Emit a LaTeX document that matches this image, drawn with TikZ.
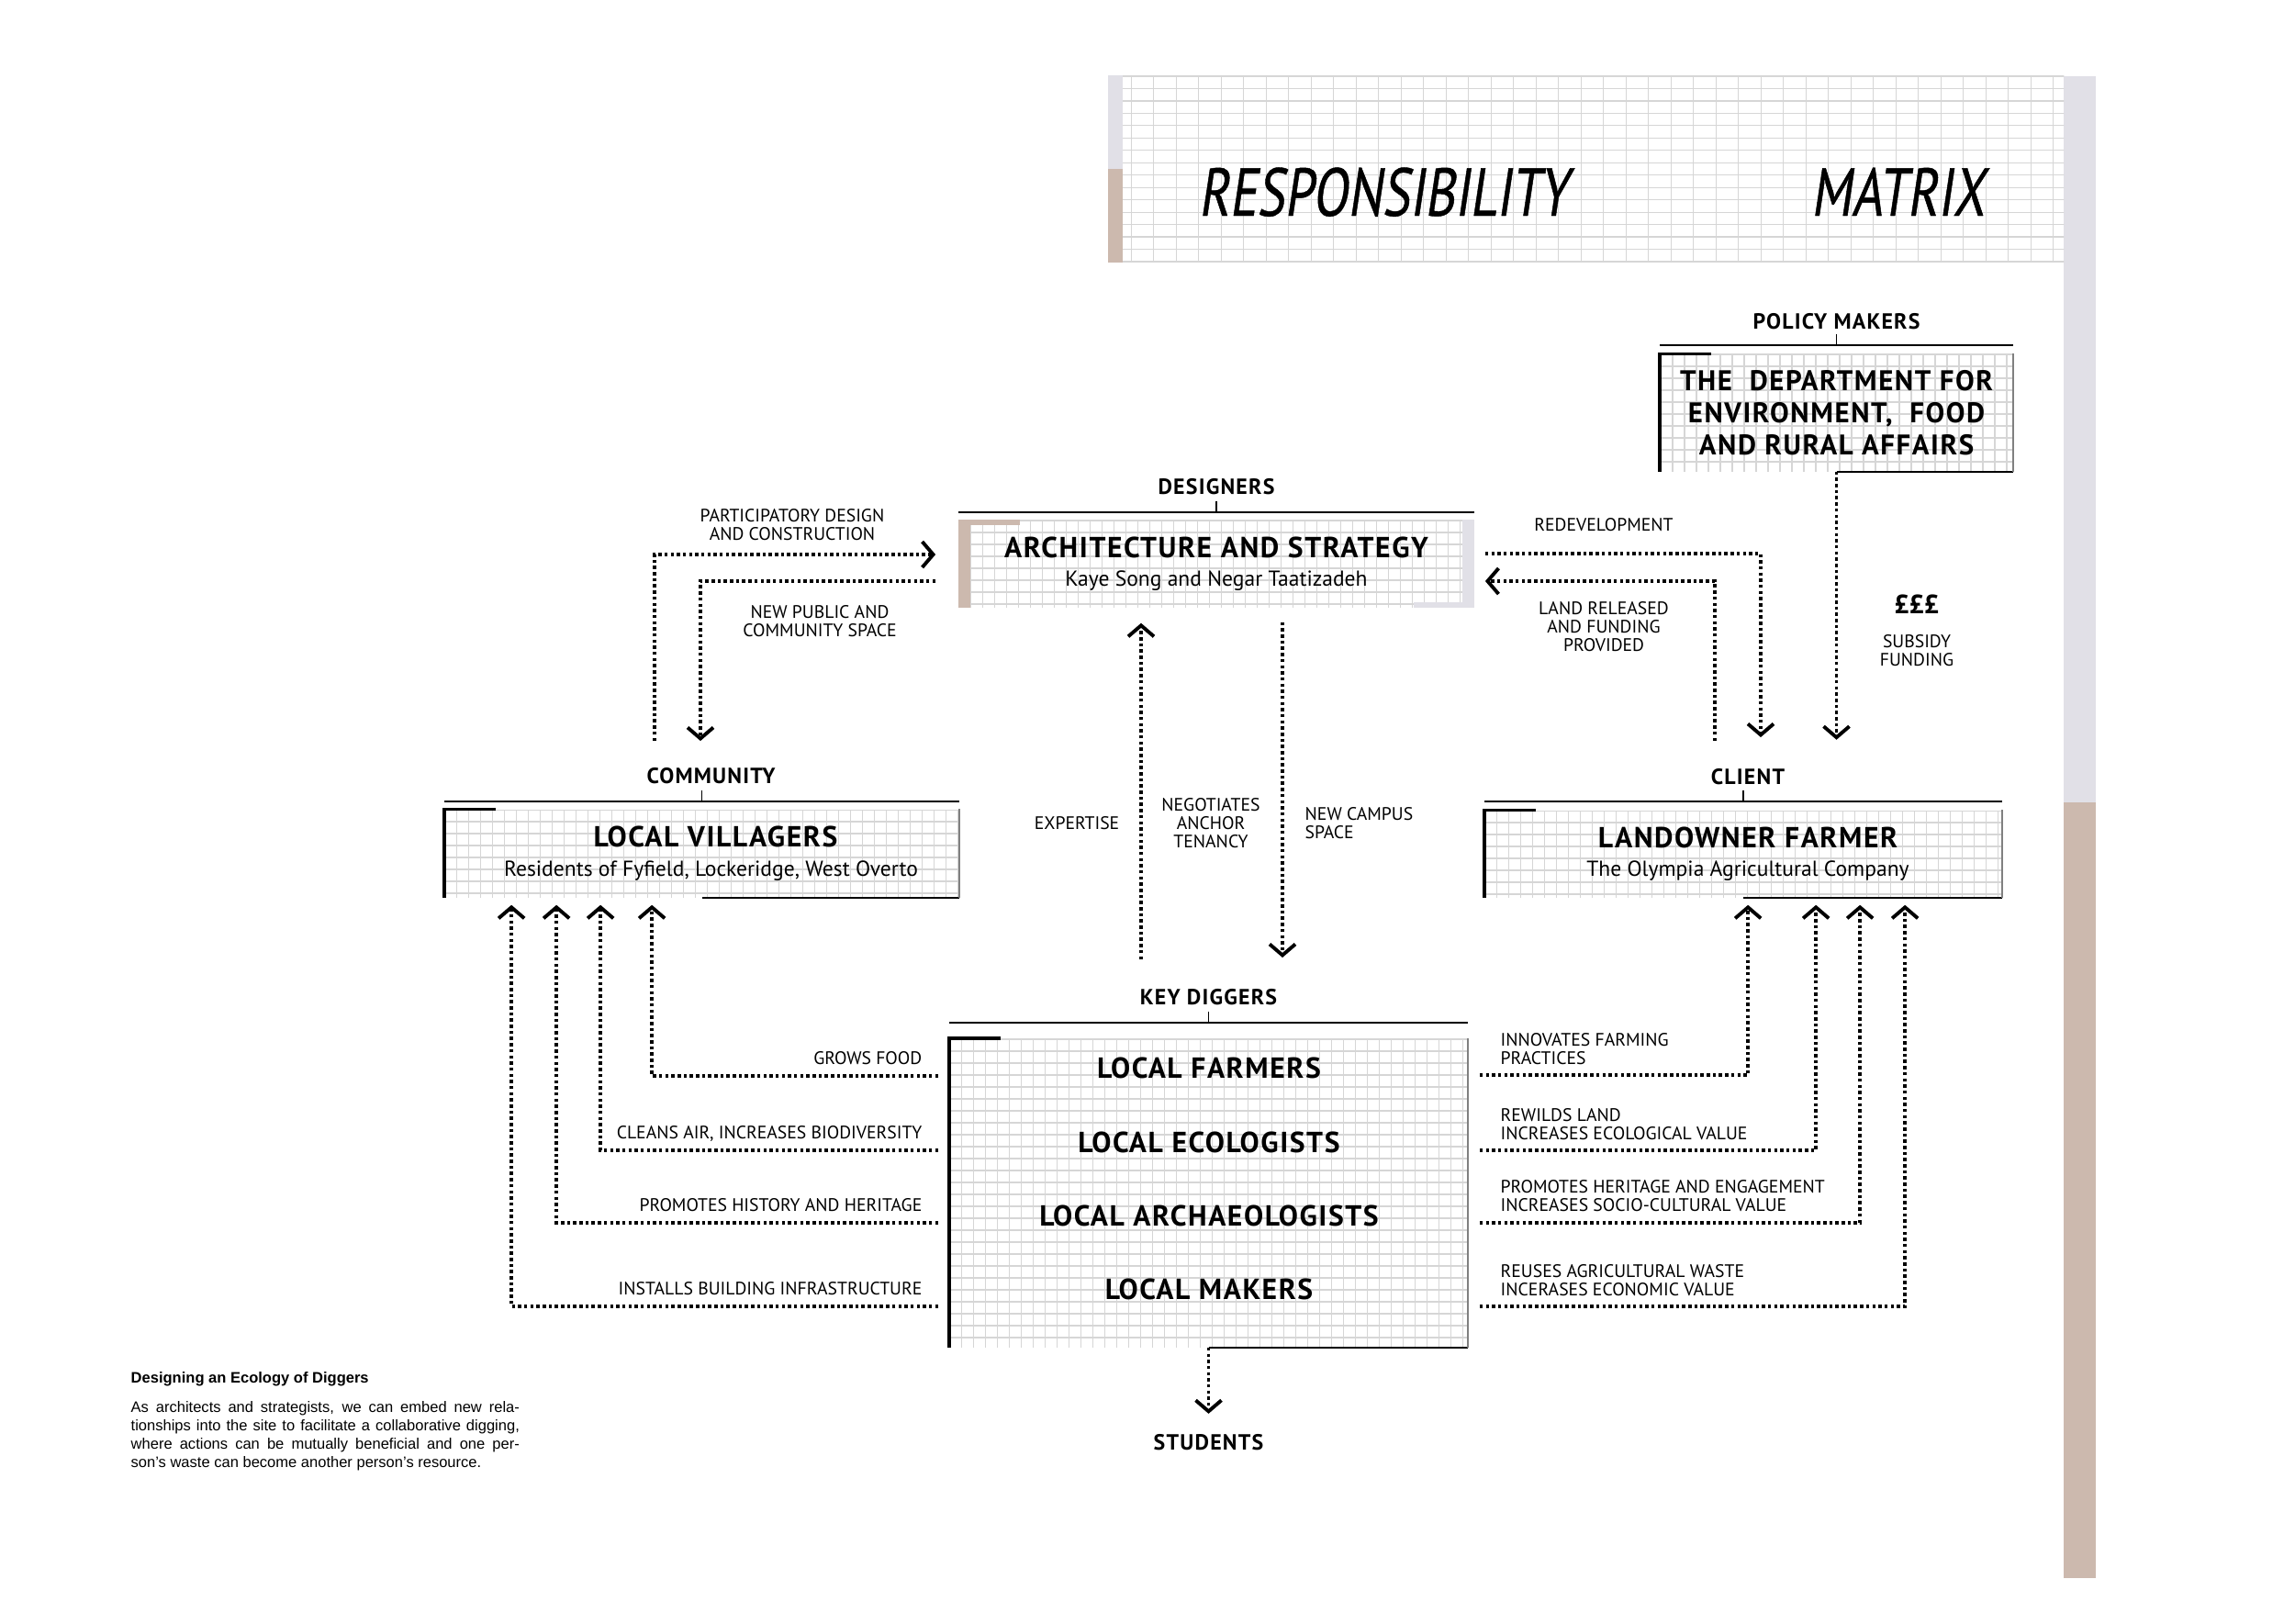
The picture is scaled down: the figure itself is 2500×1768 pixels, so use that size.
\documentclass[tikz,border=0pt]{standalone}
\usepackage{fontspec}
\setmainfont{PT Sans}
\newfontfamily\headfont{PT Sans}[LetterSpace=5]
\newfontfamily\titlefont{PT Sans}[FakeStretch=0.76,FakeSlant=0.15,FakeBold=0.6]
\newfontfamily\notefont{Liberation Sans}
\usetikzlibrary{arrows.meta,calc,positioning}
\definecolor{stripgray}{RGB}{225,224,231}
\definecolor{striptan}{RGB}{204,185,174}
\newcommand{\roleframe}[1]{%
  \draw[line width=1pt] (#1.south west) -- (#1.north west) -- ++(56,0);
  \draw[line width=0.6pt] (#1.south) -- (#1.south east);
  \draw[line width=0.6pt, black!50] (#1.south east) -- (#1.north east);
}
\newcommand{\rolebracket}[2]{%
  \draw[line width=0.55pt] ($(#1.north west)+(0,-#2)$) -- ($(#1.north east)+(0,-#2)$);
  \draw[line width=0.55pt] ($(#1.north)+(0,-#2)$) -- ++(0,-12);
}
\tikzset{
  gridline/.style={black!16, line width=0.35pt},
  gridfill/.style 2 args={path picture={
    \foreach \gx in {0,#1,...,1100}
      \draw[gridline] ($(path picture bounding box.north west)+(\gx,0)$) -- ++(0,400);
    \foreach \gy in {0,#2,...,400}
      \draw[gridline] ($(path picture bounding box.north west)+(0,\gy)$) -- ++(1100,0);
  }},
  rolebox/.style={rectangle, inner sep=0pt, align=center, gridfill={13}{13},
    font=\headfont\bfseries\fontsize{9}{10}\selectfont},
  heading/.style={inner sep=0pt, font=\headfont\bfseries\fontsize{6.8}{8}\selectfont},
  flowtag/.style={inner sep=0pt, align=center, font=\rmfamily\fontsize{5.6}{5.7}\selectfont},
  titletext/.style={inner sep=0pt, font=\titlefont\fontsize{21}{21}\selectfont},
  notetext/.style={inner sep=0pt, font=\notefont\fontsize{4.7}{5.7}\selectfont},
  flow/.style={line width=1pt, dash pattern=on 1pt off 0.9pt,
    -{Straight Barb[length=1.2mm, width=2.8mm, line width=1.1pt]}}
}
\newcommand{\subline}{\rmfamily\mdseries\fontsize{6.7}{8}\selectfont}
\begin{document}
\begin{tikzpicture}[x=0.01cm, y=-0.01cm]
  \useasboundingbox[fill=white] (0,0) rectangle (2500,1768);

  % page strips and title banner
  \fill[stripgray] (2248,83) rectangle (2283,874);
  \fill[striptan] (2248,874) rectangle (2283,1719);
  \node[rectangle, inner sep=0pt, minimum width=10.4cm, minimum height=2.02cm, gridfill={24.5}{13.47}] (banner) at (1728,184) {};
  \fill[stripgray] (banner.north west) rectangle ($(banner.west)+(16,0)$);
  \fill[striptan] (banner.west) rectangle ($(banner.south west)+(16,0)$);
  \node[titletext, anchor=base west] (resp) at (1305,235) {RESPONSIBILITY};
  \node[titletext, anchor=base west] (matx) at (1972,235) {MATRIX};

  % role boxes
  \node[rolebox, minimum width=3.83cm, minimum height=1.27cm, font=\headfont\bfseries\fontsize{8.8}{10}\selectfont] (defra) at (2000.5,449.5)
    {THE\ \ DEPARTMENT FOR\\ENVIRONMENT,\ \ FOOD\\AND RURAL AFFAIRS};
  \node[rolebox, minimum width=5.6cm, minimum height=0.94cm] (desig) at (1325,614)
    {ARCHITECTURE AND STRATEGY\\[-1pt]{\subline Kaye Song and Negar Taatizadeh}};
  \node[rolebox, minimum width=5.59cm, minimum height=0.95cm] (commu) at (764.5,929.5)
    {\hspace*{0.3cm}LOCAL VILLAGERS\\[-1pt]{\subline\hspace*{0.2cm}Residents of Fyfield, Lockeridge, West Overto}};
  \node[rolebox, minimum width=5.62cm, minimum height=0.94cm] (client) at (1899,930)
    {\hspace*{0.1cm}LANDOWNER FARMER\\[-1pt]{\subline\hspace*{0.1cm}The Olympia Agricultural Company}};
  \node[rolebox, minimum width=5.63cm, minimum height=3.35cm] (digg) at (1316.5,1299.5) {};
  \node[inner sep=0pt, align=center, font=\headfont\bfseries\fontsize{9}{22.8}\selectfont] (diggtxt) at (1317,1284)
    {LOCAL FARMERS\\LOCAL ECOLOGISTS\\LOCAL ARCHAEOLOGISTS\\LOCAL MAKERS};

  \roleframe{defra}
  \roleframe{commu}
  \roleframe{client}
  \roleframe{digg}
  \fill[striptan] (desig.north west) rectangle ($(desig.south west)+(13,0)$);
  \fill[striptan] (desig.north west) rectangle ($(desig.north west)+(67,6)$);
  \fill[stripgray] ($(desig.north east)+(-13,0)$) rectangle (desig.south east);
  \fill[stripgray] ($(desig.south east)+(-66,-6)$) rectangle (desig.south east);

  \rolebracket{defra}{9}
  \rolebracket{desig}{8}
  \rolebracket{commu}{8}
  \rolebracket{client}{9}
  \rolebracket{digg}{17}

  \node[heading, above=0.26cm of defra] (defralbl) {POLICY MAKERS};
  \node[heading, above=0.27cm of desig] (desiglbl) {DESIGNERS};
  \node[heading, above=0.27cm of commu, xshift=0.1cm] (commulbl) {COMMUNITY};
  \node[heading, above=0.27cm of client, xshift=0.05cm] (clientlbl) {CLIENT};
  \node[heading, above=0.36cm of digg] (digglbl) {KEY DIGGERS};
  \node[heading, below=0.94cm of digg] (studlbl) {STUDENTS};

  % connector labels
  \node[flowtag] (pdlbl) at (863,572) {PARTICIPATORY DESIGN\\AND CONSTRUCTION};
  \node[flowtag] (nplbl) at (893,677) {NEW PUBLIC AND\\COMMUNITY SPACE};
  \node[flowtag] (redlbl) at (1747,572) {REDEVELOPMENT};
  \node[flowtag] (landlbl) at (1747,683) {LAND RELEASED\\AND FUNDING\\PROVIDED};
  \node[flowtag] (explbl) at (1173,897) {EXPERTISE};
  \node[flowtag] (neglbl) at (1319,897) {NEGOTIATES\\ANCHOR\\TENANCY};
  \node[flowtag, align=left, anchor=west] (camplbl) at (1421,897) {NEW CAMPUS\\SPACE};
  \node[inner sep=0pt, font=\rmfamily\bfseries\fontsize{8.2}{9}\selectfont] (poundlbl) at (2088,658) {£££};
  \node[flowtag] (sublbl) at (2088,709) {SUBSIDY\\FUNDING};

  \node[flowtag, anchor=base east] (growlbl) at (1005,1159) {GROWS FOOD};
  \node[flowtag, anchor=base east] (cleanlbl) at (1005,1240) {CLEANS AIR, INCREASES BIODIVERSITY};
  \node[flowtag, anchor=base east] (histlbl) at (1005,1319) {PROMOTES HISTORY AND HERITAGE};
  \node[flowtag, anchor=base east] (instlbl) at (1005,1410) {INSTALLS BUILDING INFRASTRUCTURE};
  \node[flowtag, align=left, anchor=south west] (farmlbl) at (1634,1160) {INNOVATES FARMING\\PRACTICES};
  \node[flowtag, align=left, anchor=south west] (wildlbl) at (1634,1242) {REWILDS LAND\\INCREASES ECOLOGICAL VALUE};
  \node[flowtag, align=left, anchor=south west] (herlbl) at (1634,1320) {PROMOTES HERITAGE AND ENGAGEMENT\\INCREASES SOCIO-CULTURAL VALUE};
  \node[flowtag, align=left, anchor=south west] (wastelbl) at (1634,1412) {REUSES AGRICULTURAL WASTE\\INCERASES ECONOMIC VALUE};

  % connectors
  \coordinate (pdA) at (713,807);
  \coordinate (npB) at (763,807);
  \coordinate (redB) at (1918,803);
  \coordinate (landA) at (1868,807);
  \coordinate (expA) at (1243,1045);
  \coordinate (campB) at (1397,1043);
  \draw[flow] (pdA) |- ($(desig.west)+(-25,-10)$);
  \draw[flow] ($(desig.west)+(-25,19)$) -| (npB);
  \draw[flow] ($(desig.east)+(12,-11)$) -| (redB);
  \draw[flow] (landA) |- ($(desig.east)+(12,19)$);
  \draw[flow] (defra.south) -- ($(defra.south)+(0,292)$);
  \draw[flow] (expA) -- ($(desig.south -| expA)+(0,17)$);
  \draw[flow] ($(desig.south -| campB)+(0,16)$) -- (campB);
  \draw[flow] (digg.south) -- ($(studlbl.north)+(0,-22)$);
  \foreach \dy/\dx in {-127.5/226,-46.5/170,32.5/122,123.5/73}
    \draw[flow] ($(digg.west)+(-12,\dy)$) -| ($(commu.south west)+(\dx,8)$);
  \foreach \dy/\dx in {-128.5/287,-46.5/361,32.5/409,123.5/458}
    \draw[flow] ($(digg.east)+(13,\dy)$) -| ($(client.south west)+(\dx,8)$);

  % caption
  \node[notetext, anchor=base west, font=\notefont\bfseries\fontsize{4.7}{5.7}\selectfont] (notehead) at (142,1506) {Designing an Ecology of Diggers};
  \node[notetext, anchor=base west, text width=4.23cm, align=justify] (notebody) at (142,1538)
    {As architects and strategists, we can embed new rela-\linebreak tionships into the site to facilitate a collaborative digging,\linebreak where actions can be mutually beneficial and one per-\linebreak son’s waste can become another person’s resource.};
\end{tikzpicture}
\end{document}
